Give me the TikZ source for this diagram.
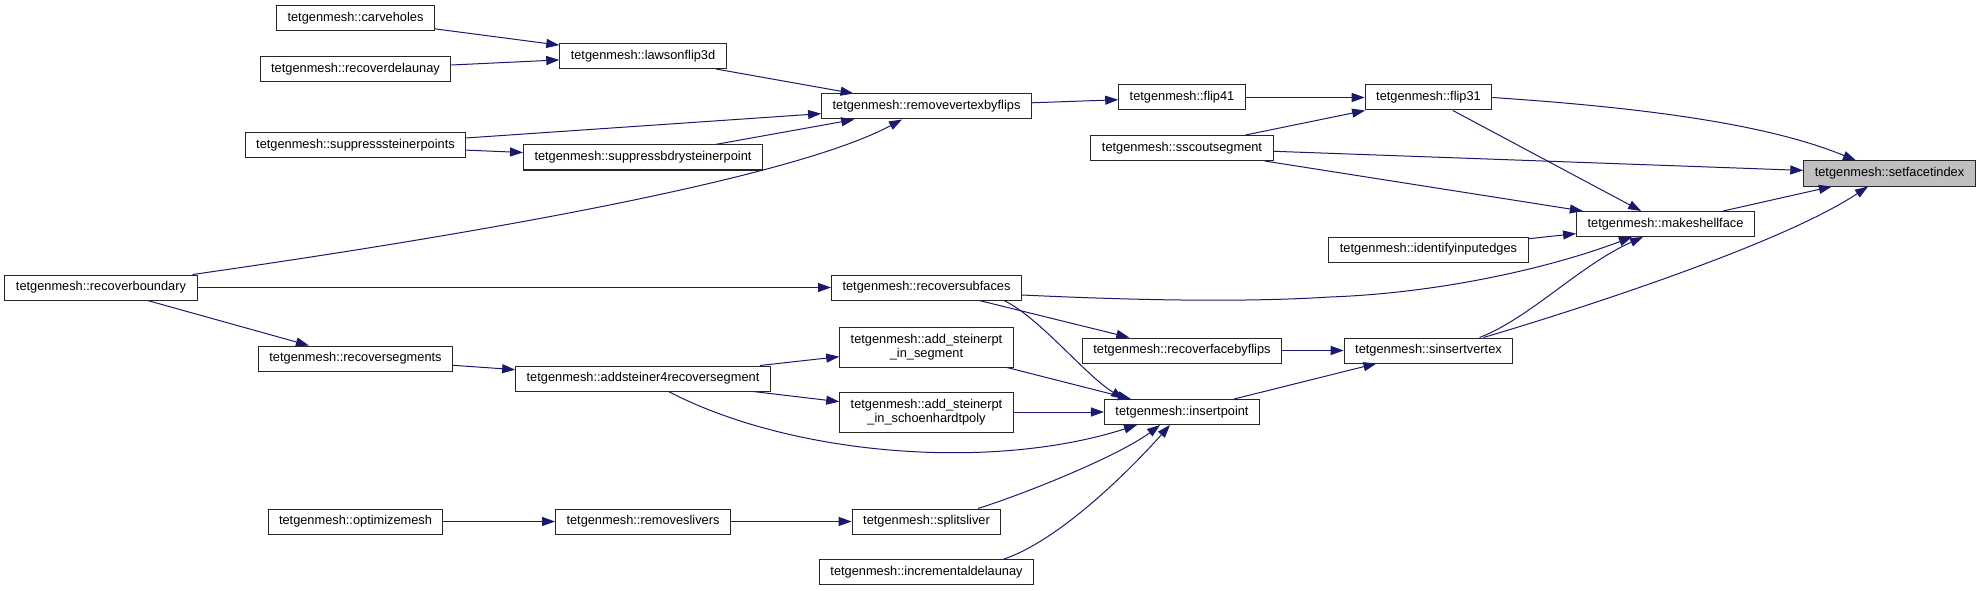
\documentclass[tikz,border=0pt]{standalone}
\usepackage{fontspec}
\setmainfont{Liberation Sans}
\usetikzlibrary{arrows.meta,calc}
\definecolor{callblue}{HTML}{191970}
\definecolor{curgray}{HTML}{BFBFBF}

\begin{document}
\begin{tikzpicture}[x=1pt,y=-1pt,
    fn/.style={draw=black!85,line width=1pt,fill=white,inner xsep=11pt,inner ysep=5pt,
      minimum height=25pt,align=center,font=\fontsize{12.8}{14}\selectfont},
    fntwo/.style={fn,minimum height=40pt},
    cur/.style={fn,fill=curgray},
    call/.style={draw=callblue,line width=1pt,-{Triangle[length=13pt,width=9pt]}}]
    \useasboundingbox (0,0) rectangle (1984,591);

    % Column centres
    \def\cA{101}
    \def\cB{355.5}
    \def\cC{643}
    \def\cD{926.5}
    \def\cE{1182}
    \def\cF{1428.5}
    \def\cG{1665.5}
    \def\cH{1889.5}

    % ---- Callers (left part) ----
    \node[fn] (recoverbnd) at (\cA,287.5) {tetgenmesh::recoverboundary};
    \node[fn] (carveholes) at (\cB,18.5) {tetgenmesh::carveholes};
    \node[fn] (recoverdel) at (\cB,69.5) {tetgenmesh::recoverdelaunay};
    \node[fn] (suppresspts) at (\cB,145.5) {tetgenmesh::suppresssteinerpoints};
    \node[fn] (recoversegs) at (\cB,358.5) {tetgenmesh::recoversegments};
    \node[fn] (optmesh) at (\cB,521.5) {tetgenmesh::optimizemesh};
    \node[fn] (lawsonflip) at (\cC,56) {tetgenmesh::lawsonflip3d};
    \node[fn] (suppressbdry) at (\cC,157.5) {tetgenmesh::suppressbdrysteinerpoint};
    \node[fn] (addsteiner) at (\cC,378.5) {tetgenmesh::addsteiner4recoversegment};
    \node[fn] (removeslivers) at (\cC,521.5) {tetgenmesh::removeslivers};

    % ---- Middle part ----
    \node[fn] (removevbf) at (\cD,106.5) {tetgenmesh::removevertexbyflips};
    \node[fn] (recoversubf) at (\cD,287.5) {tetgenmesh::recoversubfaces};
    \node[fntwo] (addseg) at (\cD,347) {tetgenmesh::add\_steinerpt\\\_in\_segment};
    \node[fntwo] (addschoen) at (\cD,412) {tetgenmesh::add\_steinerpt\\\_in\_schoenhardtpoly};
    \node[fn] (splitsliver) at (\cD,521.5) {tetgenmesh::splitsliver};
    \node[fn] (incdelaunay) at (\cD,572) {tetgenmesh::incrementaldelaunay};
    \node[fn] (flipfour) at (\cE,97.5) {tetgenmesh::flip41};
    \node[fn] (sscout) at (\cE,148) {tetgenmesh::sscoutsegment};
    \node[fn] (recoverfbf) at (\cE,350.5) {tetgenmesh::recoverfacebyflips};
    \node[fn] (insertpt) at (\cE,412) {tetgenmesh::insertpoint};

    % ---- Right part ----
    \node[fn] (flipthree) at (\cF,97.5) {tetgenmesh::flip31};
    \node[fn] (identify) at (\cF,249.5) {tetgenmesh::identifyinputedges};
    \node[fn] (sinsert) at (\cF,350.5) {tetgenmesh::sinsertvertex};
    \node[fn] (makeshell) at (\cG,224) {tetgenmesh::makeshellface};
    \node[cur] (setfacet) at (\cH,173.5) {tetgenmesh::setfacetindex};

    % Straight calls
    \draw[call] (carveholes) -- (lawsonflip);
    \draw[call] (recoverdel) -- (lawsonflip);
    \draw[call] (lawsonflip) -- (removevbf);
    \draw[call] (suppresspts) -- (removevbf);
    \draw[call] (suppresspts) -- (suppressbdry);
    \draw[call] (suppressbdry) -- (removevbf);
    \draw[call] (removevbf) -- (flipfour);
    \draw[call] (flipfour) -- (flipthree);
    \draw[call] (sscout) -- (flipthree);
    \draw[call] (sscout) -- (setfacet);
    \draw[call] (sscout) -- (makeshell);
    \draw[call] (flipthree) -- (makeshell);
    \draw[call] (makeshell) -- (setfacet);
    \draw[call] (identify) -- (makeshell);
    \draw[call] (recoverbnd) -- (recoversubf);
    \draw[call] (recoverbnd) -- (recoversegs);
    \draw[call] (recoversubf) -- (recoverfbf);
    \draw[call] (recoverfbf) -- (sinsert);
    \draw[call] (insertpt) -- (sinsert);
    \draw[call] (recoversegs) -- (addsteiner);
    \draw[call] (addsteiner) -- (addseg);
    \draw[call] (addsteiner) -- (addschoen);
    \draw[call] (addseg) -- (insertpt);
    \draw[call] (addschoen) -- (insertpt);
    \draw[call] (optmesh) -- (removeslivers);
    \draw[call] (removeslivers) -- (splitsliver);

    % Curved calls
    \draw[call] ($(recoverbnd.north east)+(-5,0)$) .. controls (400,245) and (780,185)
      .. ($(removevbf.south)+(-24.5,0)$);
    \draw[call] (flipthree.east) .. controls (1650,108) and (1770,125)
      .. ($(setfacet.north)+(-33.5,0)$);
    \draw[call] ($(recoversubf.east)+(0,7.5)$) .. controls (1150,301) and (1250,302) .. (1330,297)
      .. controls (1440,293) and (1550,268) .. ($(makeshell.south)+(-33.5,0)$);
    \draw[call] ($(sinsert.north)+(51,0)$) .. controls (1530,318) and (1580,265)
      .. ($(makeshell.south)+(-22.5,0)$);
    \draw[call] ($(sinsert.north)+(55,0)$) .. controls (1570,312) and (1780,245)
      .. ($(setfacet.south)+(-21.5,0)$);
    \draw[call] ($(recoversubf.south)+(77.5,0)$) .. controls (1040,318) and (1085,375)
      .. ($(insertpt.north)+(-58,0)$);
    \draw[call] ($(addsteiner.south)+(25.5,0)$) .. controls (790,455) and (990,472)
      .. ($(insertpt.south)+(-45,0)$);
    \draw[call] ($(splitsliver.north)+(51.5,0)$) .. controls (1030,492) and (1120,455)
      .. ($(insertpt.south)+(-22,0)$);
    \draw[call] ($(incdelaunay.north)+(77.5,0)$) .. controls (1060,540) and (1130,470)
      .. ($(insertpt.south)+(-12,0)$);
\end{tikzpicture}
\end{document}
